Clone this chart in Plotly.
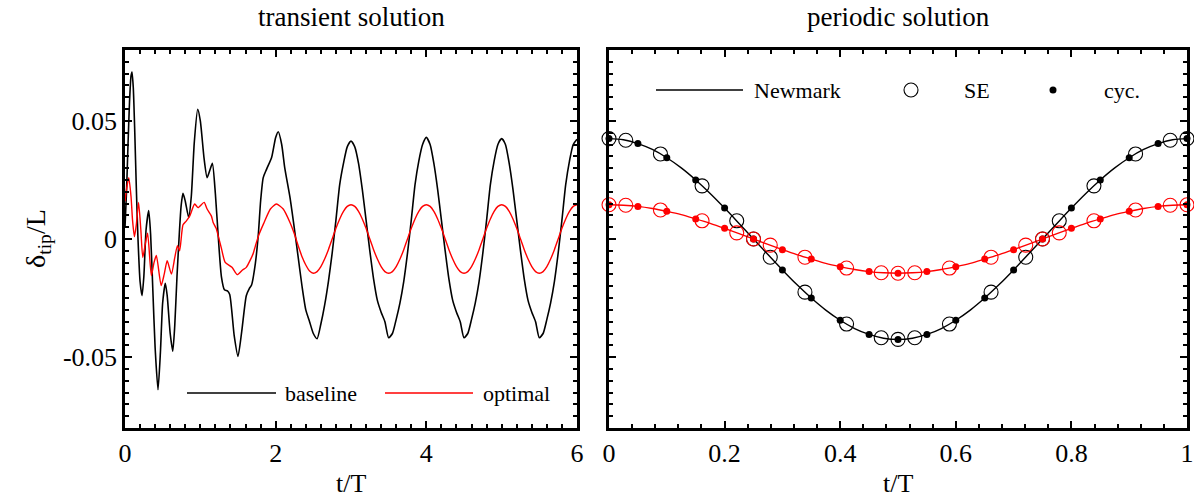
import plotly.graph_objects as go

# ---------------- data: transient solution (left) ----------------
t_base = [0.0, 0.02, 0.04, 0.06, 0.08, 0.093, 0.11, 0.13, 0.15, 0.17, 0.20, 0.226, 0.25, 0.28, 0.315,
          0.34, 0.37, 0.40, 0.438, 0.47, 0.50, 0.535, 0.56, 0.60, 0.634, 0.66, 0.69, 0.717, 0.745, 0.77,
          0.80, 0.846, 0.88, 0.92, 0.965, 1.0, 1.05, 1.09, 1.125, 1.16, 1.2, 1.24, 1.28, 1.32, 1.36, 1.39,
          1.45, 1.50, 1.55, 1.61, 1.65, 1.68, 1.73, 1.77, 1.80, 1.835, 1.88, 1.946, 2.0, 2.035, 2.08, 2.12,
          2.19, 2.25, 2.30, 2.35, 2.40, 2.45, 2.50, 2.55, 2.60, 2.65, 2.70, 2.75, 2.80, 2.85, 2.90, 2.95,
          3.0, 3.05, 3.10, 3.15, 3.20, 3.25, 3.30, 3.35, 3.40, 3.45, 3.50, 3.55, 3.60, 3.65, 3.70, 3.75,
          3.80, 3.85, 3.90, 3.95, 4.0, 4.05, 4.10, 4.15, 4.20, 4.25, 4.30, 4.35, 4.40, 4.45, 4.50, 4.55,
          4.60, 4.65, 4.70, 4.75, 4.80, 4.85, 4.90, 4.95, 5.0, 5.05, 5.10, 5.15, 5.20, 5.25, 5.30, 5.35,
          5.40, 5.45, 5.50, 5.55, 5.60, 5.65, 5.70, 5.75, 5.80, 5.85, 5.90, 5.95, 6.0]
d_base = [0.005, 0.02, 0.04, 0.058, 0.069, 0.0707, 0.064, 0.045, 0.022, 0.002, -0.018, -0.024, -0.016,
          0.004, 0.012, 0.002, -0.022, -0.046, -0.0638, -0.048, -0.027, -0.0187, -0.024, -0.040, -0.0475,
          -0.037, -0.016, 0.0, 0.014, 0.0193, 0.016, 0.0091, 0.018, 0.041, 0.0549, 0.050, 0.034, 0.026,
          0.029, 0.032, 0.019, 0.0, -0.016, -0.0215, -0.022, -0.0235, -0.041, -0.0497, -0.039, -0.024,
          -0.021, -0.0195, -0.0104, 0.002, 0.016, 0.026, 0.0296, 0.0345, 0.043, 0.0454, 0.040, 0.0302,
          0.0176, 0.004, -0.008, -0.020, -0.030, -0.035, -0.040, -0.0422, -0.036, -0.028, -0.018, -0.006,
          0.008, 0.023, 0.032, 0.039, 0.0415, 0.039, 0.032, 0.021, 0.008, -0.005, -0.017, -0.026, -0.031,
          -0.035, -0.0418, -0.040, -0.034, -0.027, -0.018, -0.006, 0.008, 0.023, 0.033, 0.040, 0.043,
          0.040, 0.032, 0.021, 0.008, -0.005, -0.017, -0.026, -0.031, -0.035, -0.0418, -0.040, -0.034,
          -0.027, -0.018, -0.006, 0.008, 0.023, 0.033, 0.040, 0.0425, 0.040, 0.032, 0.021, 0.008, -0.005,
          -0.017, -0.026, -0.031, -0.035, -0.0418, -0.040, -0.034, -0.027, -0.018, -0.006, 0.008, 0.023,
          0.033, 0.040, 0.0422]

t_opt = [0.0, 0.02, 0.05, 0.08, 0.10, 0.125, 0.15, 0.18, 0.21, 0.236, 0.27, 0.30, 0.35, 0.385, 0.416,
         0.48, 0.52, 0.56, 0.616, 0.66, 0.696, 0.725, 0.77, 0.815, 0.86, 0.925, 0.97, 1.05, 1.09, 1.146,
         1.17, 1.21, 1.24, 1.28, 1.33, 1.42, 1.49, 1.56, 1.61, 1.70, 1.73, 1.78, 1.84, 1.93, 2.01, 2.10,
         2.19, 2.25, 2.30, 2.35, 2.40, 2.45, 2.50, 2.55, 2.60, 2.65, 2.70, 2.75, 2.80, 2.85, 2.90, 2.95,
         3.0, 3.05, 3.10, 3.15, 3.20, 3.25, 3.30, 3.35, 3.40, 3.45, 3.50, 3.55, 3.60, 3.65, 3.70, 3.75,
         3.80, 3.85, 3.90, 3.95, 4.0, 4.05, 4.10, 4.15, 4.20, 4.25, 4.30, 4.35, 4.40, 4.45, 4.50, 4.55,
         4.60, 4.65, 4.70, 4.75, 4.80, 4.85, 4.90, 4.95, 5.0, 5.05, 5.10, 5.15, 5.20, 5.25, 5.30, 5.35,
         5.40, 5.45, 5.50, 5.55, 5.60, 5.65, 5.70, 5.75, 5.80, 5.85, 5.90, 5.95, 6.0]
d_opt = [0.016, 0.021, 0.026, 0.018, 0.008, 0.001, 0.006, 0.0155, 0.004, -0.0078, -0.002, 0.0025,
         -0.0155, -0.010, -0.007, -0.0197, -0.015, -0.0092, -0.0148, -0.008, -0.0028, -0.005, 0.006,
         0.0077, 0.0098, 0.0148, 0.0133, 0.0155, 0.0127, 0.0098, 0.007, 0.0045, 0.001, -0.004, -0.0099,
         -0.012, -0.0151, -0.0131, -0.012, -0.0063, -0.003, 0.002, 0.0065, 0.0127, 0.0148, 0.0127, 0.007,
         0.002, -0.003, -0.0075, -0.011, -0.0135, -0.0145, -0.0138, -0.0117, -0.0085, -0.0045, 0.0,
         0.0045, 0.0085, 0.0117, 0.0138, 0.0145, 0.0138, 0.0117, 0.0085, 0.0045, 0.0, -0.0045, -0.0085,
         -0.0117, -0.0138, -0.0145, -0.0138, -0.0117, -0.0085, -0.0045, 0.0, 0.0045, 0.0085, 0.0117,
         0.0138, 0.0145, 0.0138, 0.0117, 0.0085, 0.0045, 0.0, -0.0045, -0.0085, -0.0117, -0.0138,
         -0.0145, -0.0138, -0.0117, -0.0085, -0.0045, 0.0, 0.0045, 0.0085, 0.0117, 0.0138, 0.0145,
         0.0138, 0.0117, 0.0085, 0.0045, 0.0, -0.0045, -0.0085, -0.0117, -0.0138, -0.0145, -0.0138,
         -0.0117, -0.0085, -0.0045, 0.0, 0.0045, 0.0085, 0.0117, 0.0138, 0.0145]

# ---------------- data: periodic solution (right) ----------------
t_nm = [0.0, 0.025, 0.05, 0.075, 0.1, 0.125, 0.15, 0.175, 0.2, 0.225, 0.25, 0.275, 0.3, 0.325, 0.35,
        0.375, 0.4, 0.425, 0.45, 0.475, 0.5, 0.525, 0.55, 0.575, 0.6, 0.625, 0.65, 0.675, 0.7, 0.725,
        0.75, 0.775, 0.8, 0.825, 0.85, 0.875, 0.9, 0.925, 0.95, 0.975, 1.0]
nm_base = [0.0425, 0.0420, 0.0404, 0.0379, 0.0344, 0.0301, 0.0250, 0.0193, 0.0131, 0.0066, 0.0,
           -0.0066, -0.0131, -0.0193, -0.0250, -0.0301, -0.0344, -0.0379, -0.0404, -0.0420, -0.0425,
           -0.0420, -0.0404, -0.0379, -0.0344, -0.0301, -0.0250, -0.0193, -0.0131, -0.0066, 0.0,
           0.0066, 0.0131, 0.0193, 0.0250, 0.0301, 0.0344, 0.0379, 0.0404, 0.0420, 0.0425]
nm_opt = [0.0145, 0.0143, 0.0138, 0.0129, 0.0117, 0.0103, 0.0085, 0.0066, 0.0045, 0.0023, 0.0,
          -0.0023, -0.0045, -0.0066, -0.0085, -0.0103, -0.0117, -0.0129, -0.0138, -0.0143, -0.0145,
          -0.0143, -0.0138, -0.0129, -0.0117, -0.0103, -0.0085, -0.0066, -0.0045, -0.0023, 0.0,
          0.0023, 0.0045, 0.0066, 0.0085, 0.0103, 0.0117, 0.0129, 0.0138, 0.0143, 0.0145]

t_se = [0.0, 0.029, 0.089, 0.161, 0.221, 0.25, 0.279, 0.339, 0.411, 0.471, 0.5, 0.529, 0.589, 0.661,
        0.721, 0.75, 0.779, 0.839, 0.911, 0.971, 1.0]
se_base = [0.0425, 0.0418, 0.0360, 0.0225, 0.0077, 0.0, -0.0077, -0.0225, -0.0360, -0.0418, -0.0425,
           -0.0418, -0.0360, -0.0225, -0.0077, 0.0, 0.0077, 0.0225, 0.0360, 0.0418, 0.0425]
se_opt = [0.0145, 0.0143, 0.0123, 0.0077, 0.0026, 0.0, -0.0026, -0.0077, -0.0123, -0.0143, -0.0145,
          -0.0143, -0.0123, -0.0077, -0.0026, 0.0, 0.0026, 0.0077, 0.0123, 0.0143, 0.0145]

t_cyc = [0.0, 0.05, 0.1, 0.15, 0.2, 0.25, 0.3, 0.35, 0.4, 0.45, 0.5, 0.55, 0.6, 0.65, 0.7, 0.75, 0.8,
         0.85, 0.9, 0.95, 1.0]
cyc_base = [0.0425, 0.0404, 0.0344, 0.0250, 0.0131, 0.0, -0.0131, -0.0250, -0.0344, -0.0404, -0.0425,
            -0.0404, -0.0344, -0.0250, -0.0131, 0.0, 0.0131, 0.0250, 0.0344, 0.0404, 0.0425]
cyc_opt = [0.0145, 0.0138, 0.0117, 0.0085, 0.0045, 0.0, -0.0045, -0.0085, -0.0117, -0.0138, -0.0145,
           -0.0138, -0.0117, -0.0085, -0.0045, 0.0, 0.0045, 0.0085, 0.0117, 0.0138, 0.0145]

y_tickvals = [-0.05, 0, 0.05]
y_ticktext = ["-0.05", "0", "0.05"]
x1_tickvals = [0, 2, 4, 6]
x2_tickvals = [0, 0.2, 0.4, 0.6, 0.8, 1]
x2_ticktext = ["0", "0.2", "0.4", "0.6", "0.8", "1"]

BLACK = "#000000"
RED = "#ff0000"
FONT = "Liberation Serif"
W, H = 1194, 498

fig = go.Figure()

fig.add_trace(go.Scatter(x=t_base, y=d_base, mode="lines",
                         line=dict(color=BLACK, width=1.6, shape="spline", smoothing=0.6),
                         xaxis="x", yaxis="y", showlegend=False))
fig.add_trace(go.Scatter(x=t_opt, y=d_opt, mode="lines",
                         line=dict(color=RED, width=1.4, shape="spline", smoothing=0.6),
                         xaxis="x", yaxis="y", showlegend=False))

fig.add_trace(go.Scatter(x=t_nm, y=nm_base, mode="lines", line=dict(color=BLACK, width=1.4, shape="spline"),
                         xaxis="x2", yaxis="y2", showlegend=False))
fig.add_trace(go.Scatter(x=t_nm, y=nm_opt, mode="lines", line=dict(color=RED, width=1.4, shape="spline"),
                         xaxis="x2", yaxis="y2", showlegend=False))
fig.add_trace(go.Scatter(x=t_se, y=se_base, mode="markers", cliponaxis=False,
                         marker=dict(symbol="circle-open", size=14, color=BLACK, line=dict(width=1.1)),
                         xaxis="x2", yaxis="y2", showlegend=False))
fig.add_trace(go.Scatter(x=t_se, y=se_opt, mode="markers", cliponaxis=False,
                         marker=dict(symbol="circle-open", size=14, color=RED, line=dict(width=1.1)),
                         xaxis="x2", yaxis="y2", showlegend=False))
fig.add_trace(go.Scatter(x=t_cyc, y=cyc_base, mode="markers", cliponaxis=False,
                         marker=dict(symbol="circle", size=7, color=BLACK),
                         xaxis="x2", yaxis="y2", showlegend=False))
fig.add_trace(go.Scatter(x=t_cyc, y=cyc_opt, mode="markers", cliponaxis=False,
                         marker=dict(symbol="circle", size=7, color=RED),
                         xaxis="x2", yaxis="y2", showlegend=False))

axis_common = dict(showline=True, linecolor=BLACK, linewidth=2.5, mirror="allticks", ticks="inside",
                   ticklen=7, tickwidth=2, tickcolor=BLACK, showgrid=False, zeroline=False,
                   automargin=False, tickfont=dict(family=FONT, size=26, color=BLACK))

x_left = (125 / W, 577 / W)
x_right = (609 / W, 1187 / W)
y_dom = (1 - 428 / H, 1 - 50 / H)

fig.update_layout(
    width=W, height=H, plot_bgcolor="white", paper_bgcolor="white",
    margin=dict(l=0, r=0, t=0, b=0, autoexpand=False), showlegend=False,
    font=dict(family=FONT, color=BLACK),
    xaxis=dict(axis_common, domain=x_left, range=[0, 6], tickvals=x1_tickvals, anchor="y",
               minor=dict(dtick=0.2, ticklen=4, tickwidth=1.5, ticks="inside", tickcolor=BLACK)),
    yaxis=dict(axis_common, domain=y_dom, range=[-0.08, 0.08], tickvals=y_tickvals, ticktext=y_ticktext,
               anchor="x",
               minor=dict(dtick=0.005, ticklen=4, tickwidth=1.5, ticks="inside", tickcolor=BLACK)),
    xaxis2=dict(axis_common, domain=x_right, range=[0, 1], tickvals=x2_tickvals, ticktext=x2_ticktext,
                anchor="y2",
                minor=dict(dtick=0.04, ticklen=4, tickwidth=1.5, ticks="inside", tickcolor=BLACK)),
    yaxis2=dict(axis_common, domain=y_dom, range=[-0.08, 0.08], tickvals=y_tickvals, anchor="x2",
                showticklabels=False,
                minor=dict(dtick=0.005, ticklen=4, tickwidth=1.5, ticks="inside", tickcolor=BLACK)),
)

def txt(text, xpx, ypx, size, xanchor="center", angle=0):
    return dict(text=text, x=xpx / W, y=1 - ypx / H, xref="paper", yref="paper", showarrow=False,
                xanchor=xanchor, yanchor="middle", textangle=angle,
                font=dict(family=FONT, size=size, color=BLACK))

ann = []
ann.append(txt("transient solution", (125 + 577) / 2, 17, 27))
ann.append(txt("periodic solution", (609 + 1187) / 2, 17, 27))
ann.append(txt("t/T", (125 + 577) / 2, 483, 26))
ann.append(txt("t/T", (609 + 1187) / 2, 483, 26))
ann.append(txt("δ<sub>tip</sub>/L", 37, 239, 28, angle=-90))

# legend (left panel)
shapes = []
ly = 1 - 393 / H
shapes.append(dict(type="line", xref="paper", yref="paper", x0=187 / W, x1=276 / W, y0=ly, y1=ly,
                   line=dict(color=BLACK, width=1.6)))
shapes.append(dict(type="line", xref="paper", yref="paper", x0=385 / W, x1=473 / W, y0=ly, y1=ly,
                   line=dict(color=RED, width=1.4)))
ann.append(txt("baseline", 283, 393, 22, xanchor="left"))
ann.append(txt("optimal", 481, 393, 22, xanchor="left"))

# legend (right panel)
ry = 1 - 90 / H
shapes.append(dict(type="line", xref="paper", yref="paper", x0=656 / W, x1=743 / W, y0=ry, y1=ry,
                   line=dict(color=BLACK, width=1.4)))
shapes.append(dict(type="circle", xref="paper", yref="paper", xsizemode="pixel", ysizemode="pixel",
                   xanchor=911 / W, yanchor=ry, x0=-7, x1=7, y0=-7, y1=7,
                   line=dict(color=BLACK, width=1.1)))
shapes.append(dict(type="circle", xref="paper", yref="paper", xsizemode="pixel", ysizemode="pixel",
                   xanchor=1053 / W, yanchor=ry, x0=-3.5, x1=3.5, y0=-3.5, y1=3.5,
                   fillcolor=BLACK, line=dict(color=BLACK, width=0)))
ann.append(txt("Newmark", 752, 90, 22, xanchor="left"))
ann.append(txt("SE", 962, 90, 22, xanchor="left"))
ann.append(txt("cyc.", 1102, 90, 22, xanchor="left"))

fig.update_layout(annotations=ann, shapes=shapes)
fig.write_html("out.html", config={"displayModeBar": False},
               post_script="document.body.style.margin='0';document.body.style.overflow='hidden';")
